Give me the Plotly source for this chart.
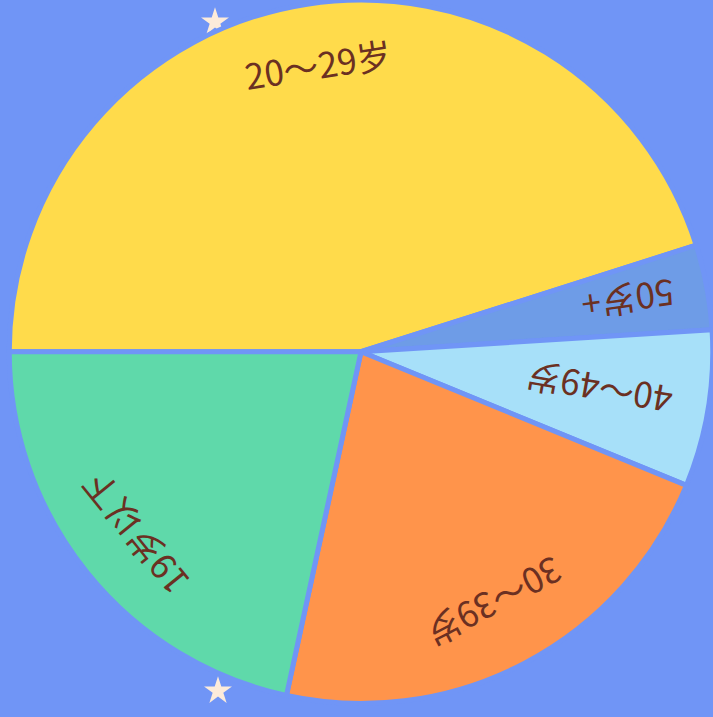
import math
import plotly.graph_objects as go

# ---- data ----
categories = ["20～29岁", "50岁+", "40～49岁", "30～39岁", "19岁以下"]
values = [45.1, 3.9, 7.2, 22.2, 21.6]
colors = ["#FFDB4B", "#6E9CE7", "#A7E0F9", "#FF944B", "#5FD9AA"]

# decorative stars (pixel positions)
star_x = [215, 218]
star_y = [22, 691]

# ---- style / layout ----
W, H = 713, 717
BG = "#7095F6"
TEXT = "#6B3022"
CX, CY = 362, 350.5          # pie centre in px
R = 353                       # pie radius in px
START_DEG = 180               # first slice starts at 9 o'clock, goes clockwise
label_r = [290, 271, 240, 285, 293]
# label rotation: None -> tangential (top outward); else explicit angle
label_angle_override = [None, 172, -170, None, None]

fig = go.Figure()
fig.add_trace(go.Pie(
    labels=categories, values=values, sort=False, direction="clockwise",
    rotation=-90, textinfo="none", hoverinfo="label+percent",
    marker=dict(colors=colors, line=dict(color=BG, width=5)),
    domain=dict(x=[(CX - R) / W, min(1, (CX + R) / W)],
                y=[max(0, 1 - (CY + R) / H), 1]),
    showlegend=False,
))

# labels computed from the data
total = sum(values)
cum = 0.0
for i, (cat, v) in enumerate(zip(categories, values)):
    mid_frac = (cum + v / 2) / total
    cum += v
    theta = math.radians(START_DEG - 360 * mid_frac)  # math angle, ccw from east
    px = CX + label_r[i] * math.cos(theta)
    py = CY - label_r[i] * math.sin(theta)
    if label_angle_override[i] is None:
        ang = math.degrees(math.atan2(math.cos(theta), math.sin(theta)))
    else:
        ang = label_angle_override[i]
    fig.add_annotation(
        x=px / W, y=1 - py / H, xref="paper", yref="paper",
        text=cat, showarrow=False, textangle=ang,
        xanchor="center", yanchor="middle",
        font=dict(family="Noto Sans CJK SC", size=35, color=TEXT),
    )

# stars on an overlay pixel axis
fig.add_trace(go.Scatter(
    x=star_x, y=star_y, mode="markers", xaxis="x", yaxis="y",
    marker=dict(symbol="star", size=21, color="#FCEBDA", line=dict(width=0)),
    hoverinfo="skip", showlegend=False,
))

fig.update_layout(
    width=W, height=H, margin=dict(l=0, r=0, t=0, b=0),
    paper_bgcolor=BG, plot_bgcolor="rgba(0,0,0,0)",
    xaxis=dict(range=[0, W], visible=False, fixedrange=True, domain=[0, 1]),
    yaxis=dict(range=[H, 0], visible=False, fixedrange=True, domain=[0, 1]),
)

fig.write_html(
    "out.html",
    config={"displayModeBar": False},
    post_script="document.body.style.margin='0';"
                "document.body.style.overflow='hidden';"
                "document.body.style.background='" + BG + "';",
)
